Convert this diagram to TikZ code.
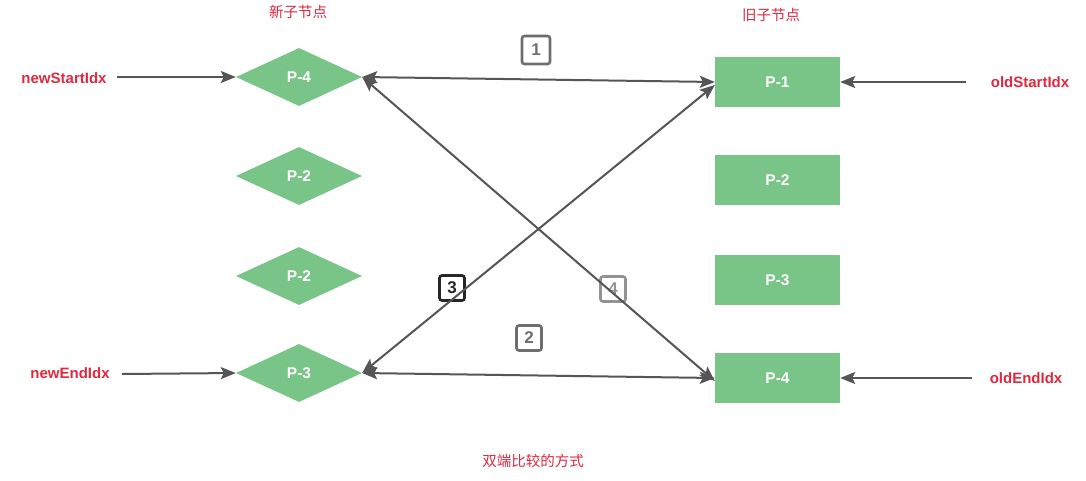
\documentclass[tikz,border=0pt]{standalone}
\usepackage{fontspec}
\setmainfont{Liberation Sans}
\newfontfamily\cjk{Noto Sans CJK SC}
\usetikzlibrary{shapes.geometric,arrows.meta}
\definecolor{nodegreen}{HTML}{79C487}
\definecolor{labred}{HTML}{E0283F}
\definecolor{arrgray}{HTML}{555555}
\tikzset{
  x=1pt,y=-1pt,
  tip/.style={Stealth[length=15pt,width=12pt,inset=3pt]},
  newnode/.style={diamond,fill=nodegreen,minimum width=126pt,minimum height=58pt,aspect=2.17,inner sep=0pt,text=white,font=\fontsize{15.5}{17}\selectfont\bfseries},
  oldnode/.style={rectangle,fill=nodegreen,minimum width=125pt,minimum height=50pt,inner sep=0pt,text=white,font=\fontsize{15.5}{17}\selectfont\bfseries},
  idxlabel/.style={text=labred,font=\fontsize{15}{17}\selectfont\bfseries},
  cjklabel/.style={text=labred,font=\cjk\fontsize{14.5}{16}\selectfont},
  conn/.style={draw=arrgray,line width=2pt,-{Stealth[length=15pt,width=12pt,inset=3pt]}},
  dconn/.style={draw=arrgray,line width=2pt,{Stealth[length=15pt,width=12pt,inset=3pt]}-{Stealth[length=15pt,width=12pt,inset=3pt]}},
  numbox/.style={draw=#1,text=#1,line width=2.6pt,rounded corners=2.5pt,minimum width=25pt,minimum height=25pt,inner sep=0pt,font=\fontsize{17}{18}\selectfont\bfseries},
}
\begin{document}
\begin{tikzpicture}
\useasboundingbox[fill=white] (0,0) rectangle (1086,480);
% titles
\node[cjklabel] (tnew) at (298,12) {新子节点};
\node[cjklabel] (told) at (771,15) {旧子节点};
\node[cjklabel] (tcap) at (533,461) {双端比较的方式};
% new children
\node[newnode] (n1) at (299,77) {P-4};
\node[newnode] (n2) at (299,176) {P-2};
\node[newnode] (n3) at (299,276) {P-2};
\node[newnode] (n4) at (299,373) {P-3};
% old children
\node[oldnode] (o1) at (777.5,82) {P-1};
\node[oldnode] (o2) at (777.5,180) {P-2};
\node[oldnode] (o3) at (777.5,280) {P-3};
\node[oldnode] (o4) at (777.5,378) {P-4};
% index labels
\node[idxlabel] (nsi) at (64,78) {newStartIdx};
\node[idxlabel] (nei) at (70,373) {newEndIdx};
\node[idxlabel] (osi) at (1030,82) {oldStartIdx};
\node[idxlabel] (oei) at (1026,378) {oldEndIdx};
\coordinate (nsiE) at (117,77);
\coordinate (neiE) at (122,374);
\coordinate (osiW) at (966,82);
\coordinate (oeiW) at (972,378);
\draw[conn] (nsiE) -- (n1.west);
\draw[conn] (neiE) -- (n4.west);
\draw[conn] (osiW) -- (o1.east);
\draw[conn] (oeiW) -- (o4.east);
% number boxes (under crossing lines)
\node[numbox=arrgray!85,minimum width=28pt,minimum height=28pt] (b1) at (536,50) {1};
\node[numbox=arrgray!85] (b2) at (529,338) {2};
\node[numbox=black!85] (b3) at (452,288) {3};
\node[numbox=gray!85] (b4) at (613,289) {4};
% comparisons
\draw[dconn] (n1.east) -- (o1.west);
\draw[dconn] (n4.east) -- (o4.west);
\draw[dconn] ([yshift=-3pt]o1.west) -- (n4.east);
\draw[dconn] (n1.east) -- ([yshift=-3pt]o4.west);
\end{tikzpicture}
\end{document}
